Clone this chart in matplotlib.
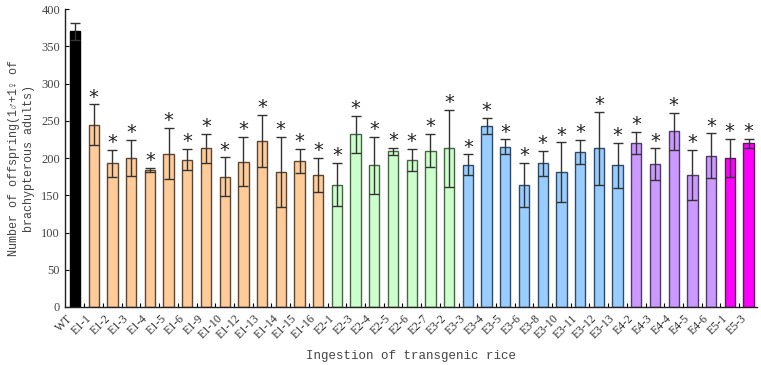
"""Offspring counts of brachypterous adults fed on transgenic rice lines."""

import matplotlib

matplotlib.use("Agg")
import matplotlib.pyplot as plt
import matplotlib.transforms as mtransforms
import numpy as np
from matplotlib.ticker import FixedLocator

OUTPUT_PATH = "out.png"

LINES = [
    "WT",
    "E1-1", "E1-2", "E1-3", "E1-4", "E1-5", "E1-6", "E1-9", "E1-10",
    "E1-12", "E1-13", "E1-14", "E1-15", "E1-16",
    "E2-1", "E2-3", "E2-4", "E2-5", "E2-6", "E2-7",
    "E3-2", "E3-3", "E3-4", "E3-5", "E3-6", "E3-8", "E3-10", "E3-11",
    "E3-12", "E3-13",
    "E4-2", "E4-3", "E4-4", "E4-5", "E4-6",
    "E5-1", "E5-3",
]
MEANS = [
    370,
    245, 193, 200, 184, 206, 198, 213, 175, 195, 223, 181, 196, 177,
    164, 232, 190, 209, 197, 210, 213,
    191, 243, 215, 164, 193, 181, 208, 213, 190,
    220, 192, 236, 177, 203,
    200, 220,
]
ERRORS = [
    12,
    27, 18, 24, 3, 34, 14, 19, 26, 33, 35, 47, 16, 23,
    29, 25, 38, 5, 15, 22, 52,
    14, 11, 10, 30, 17, 40, 16, 49, 30,
    15, 21, 25, 34, 30,
    26, 6,
]
# number of bars drawn in each colour, left to right
GROUP_SIZES = [1, 13, 7, 9, 5, 2]
GROUP_FILLS = ["#000000", "#FFCC99", "#CCFFCC", "#99CCFF", "#CC99FF", "#FF00FF"]
GROUP_EDGES = ["#000000", "#5B4636", "#466446", "#2E4A68", "#4E3A66", "#5A1A5A"]


def build_chart():
    fills, edges = [], []
    for n, fc, ec in zip(GROUP_SIZES, GROUP_FILLS, GROUP_EDGES):
        fills += [fc] * n
        edges += [ec] * n

    x = np.arange(len(LINES))
    means = np.array(MEANS)
    errs = np.array(ERRORS)

    fig = plt.figure(figsize=(7.61, 3.65), dpi=100)
    ax = fig.add_axes([0.0854, 0.159, 0.91, 0.816])

    ax.bar(x, means, width=0.55, color=fills, edgecolor=edges, linewidth=1.0,
           zorder=2)
    ax.errorbar(x, means, yerr=errs, fmt="none", ecolor="#333333",
                elinewidth=1.0, capsize=3.5, capthick=1.0, zorder=3)

    # significance marks on every transgenic line
    for xi, m, e in zip(x[1:], means[1:], errs[1:]):
        ax.text(xi, m + e - 3, "*", ha="center", va="bottom", fontsize=14,
                color="#222222", family="DejaVu Sans")

    ax.set_xlim(-0.535, len(LINES) - 0.52)
    ax.set_ylim(0, 400)
    ax.set_yticks(range(0, 401, 50))

    ax.set_xticks(x)
    ax.set_xticklabels(LINES, rotation=45, ha="right", fontsize=8.5,
                       family="Liberation Serif", color="#333333")
    shift = mtransforms.ScaledTranslation(-4 / 72, 0, fig.dpi_scale_trans)
    for lab in ax.get_xticklabels():
        lab.set_transform(lab.get_transform() + shift)
    ax.xaxis.set_minor_locator(FixedLocator(x[:-1] + 0.5))
    ax.tick_params(axis="x", which="major", length=0, pad=4)
    ax.tick_params(axis="x", which="minor", direction="in", length=3,
                   width=0.8)
    ax.tick_params(axis="y", direction="in", length=3, width=0.8,
                   labelsize=9, labelcolor="#444444")
    for lab in ax.get_yticklabels():
        lab.set_family("Liberation Serif")

    for side in ("top", "right"):
        ax.spines[side].set_visible(False)
    for side in ("left", "bottom"):
        ax.spines[side].set_linewidth(1.0)
        ax.spines[side].set_color("#222222")

    ax.set_ylabel("Number of offspring(1\u2642+1\u2640 of\nbrachypterous adults)",
                  family=["Liberation Mono", "Noto Sans CJK SC"], fontsize=8.5,
                  color="#444444", linespacing=1.3, va="center")
    ax.yaxis.set_label_coords(-0.063, 0.5)
    ax.set_xlabel("Ingestion of transgenic rice",
                  family=["Liberation Mono", "DejaVu Sans"], fontsize=9,
                  color="#444444", va="center")
    ax.xaxis.set_label_coords(0.5, -0.163)

    fig.savefig(OUTPUT_PATH, dpi=100)


def main():
    build_chart()


if __name__ == "__main__":
    main()
